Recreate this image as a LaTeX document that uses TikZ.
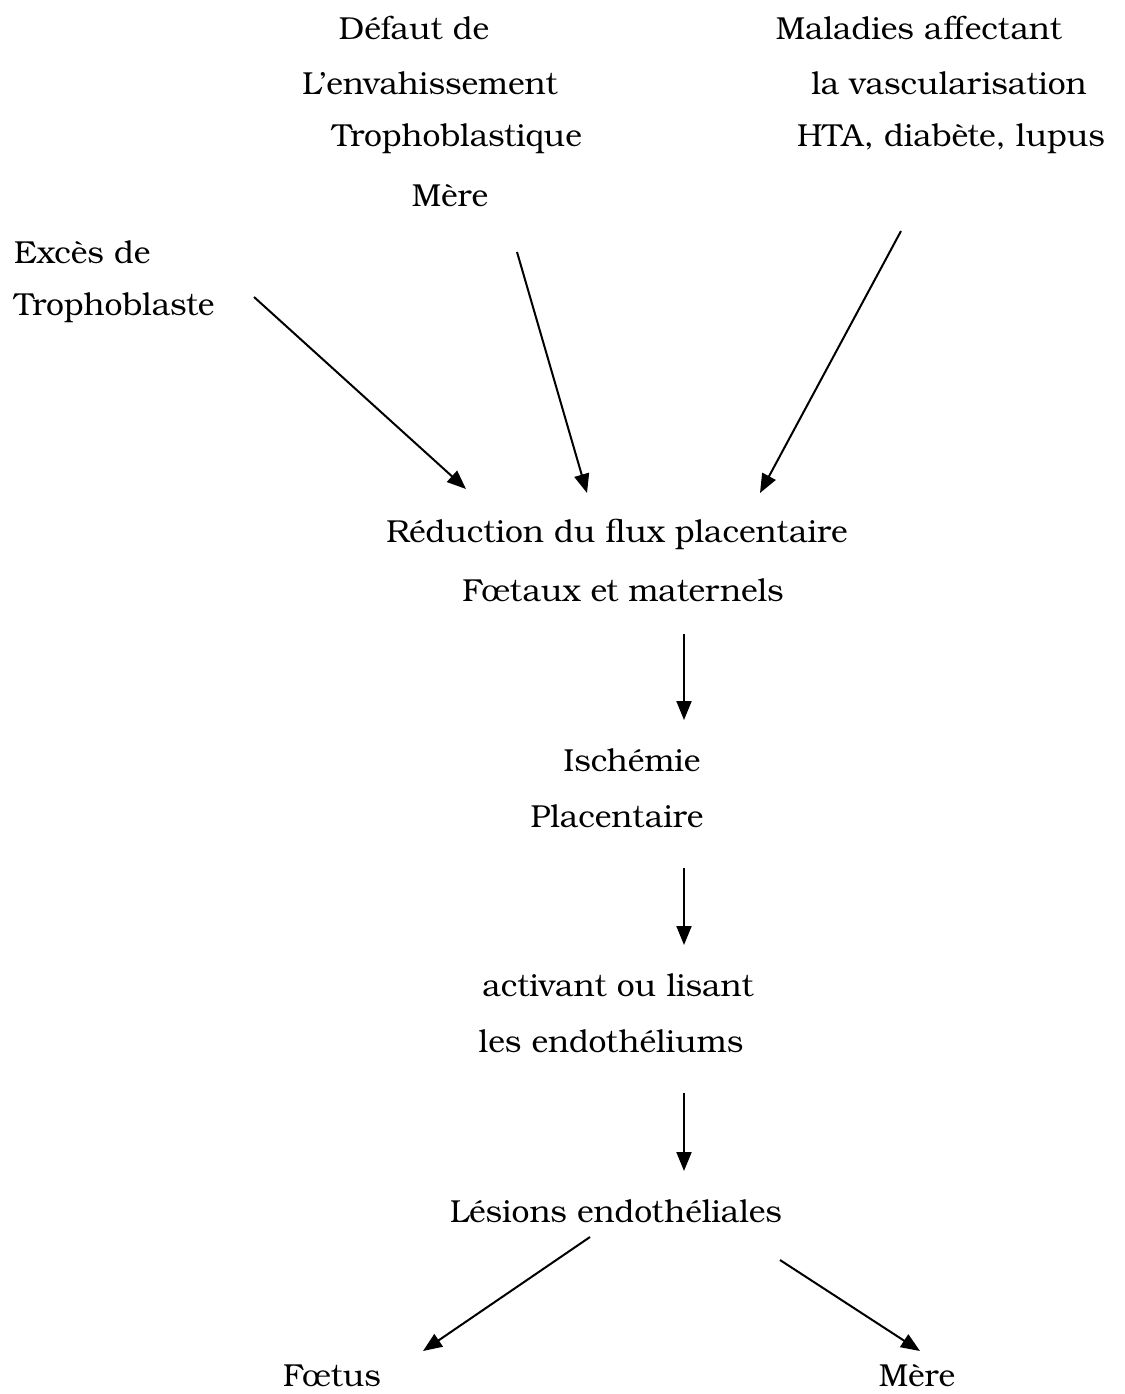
\documentclass[tikz,border=0pt]{standalone}
\usepackage{fontspec}
\setmainfont{TeX Gyre Bonum}
\usetikzlibrary{arrows.meta}
\begin{document}
\begin{tikzpicture}[x=1pt,y=-1pt,
  lbl/.style={inner sep=0pt,font=\fontsize{31.8}{32}\selectfont},
  arr/.style={-{Triangle[length=19pt,width=15pt]},line width=2pt}]
\useasboundingbox (0,0) rectangle (1124,1394);
\node[lbl] (d1) at (414,28) {Défaut de};
\node[lbl] (d2) at (430,83) {L’envahissement};
\node[lbl] (d3) at (457,139) {Trophoblastique};
\node[lbl] (d4) at (450,196) {Mère};
\node[lbl] (m1) at (919,28) {Maladies affectant};
\node[lbl] (m2) at (949,83) {la vascularisation};
\node[lbl] (m3) at (951,139) {HTA, diabète, lupus};
\node[lbl,anchor=west] (e1) at (14,252) {Excès de};
\node[lbl,anchor=west] (e2) at (14,308) {Trophoblaste};
\node[lbl] (r1) at (617,534) {Réduction du flux placentaire};
\node[lbl] (r2) at (623,590) {Fœtaux et maternels};
\node[lbl] (i1) at (632,760) {Ischémie};
\node[lbl] (i2) at (617,816) {Placentaire};
\node[lbl] (a1) at (618,985) {activant ou lisant};
\node[lbl] (a2) at (611,1041) {les endothéliums};
\node[lbl] (l1) at (616,1211) {Lésions endothéliales};
\node[lbl] (f) at (332,1376) {Fœtus};
\node[lbl] (mm) at (917,1376) {Mère};
\coordinate (s1) at (254,297); \coordinate (t1) at (466,489);
\coordinate (s2) at (517,252); \coordinate (t2) at (587,493);
\coordinate (s3) at (901,231); \coordinate (t3) at (760,493);
\coordinate (s4) at (684,634); \coordinate (t4) at (684,720);
\coordinate (s5) at (684,868); \coordinate (t5) at (684,945);
\coordinate (s6) at (684,1093); \coordinate (t6) at (684,1171);
\coordinate (s7) at (590,1237); \coordinate (t7) at (423,1351);
\coordinate (s8) at (780,1260); \coordinate (t8) at (920,1351);
\foreach \i in {1,...,8} \draw[arr] (s\i) -- (t\i);
\end{tikzpicture}
\end{document}
